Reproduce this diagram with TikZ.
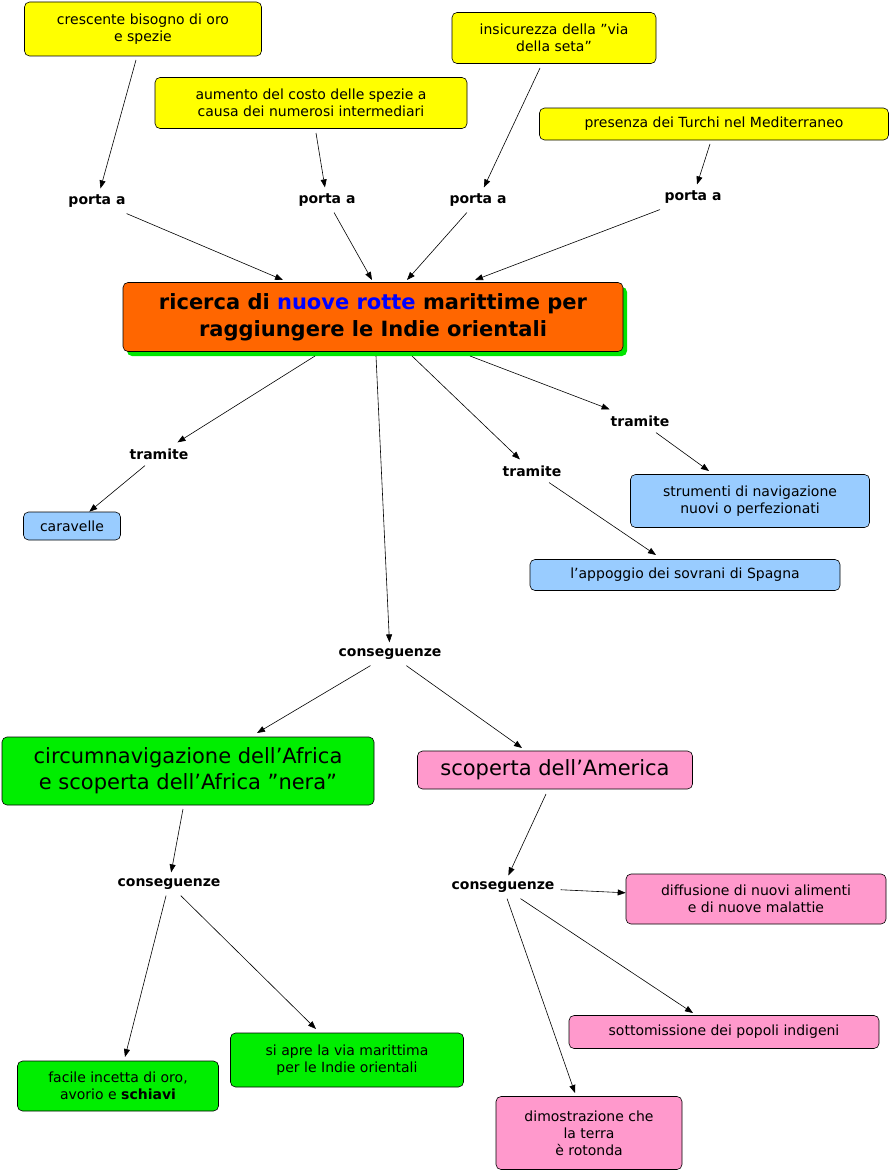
\documentclass[tikz,border=0pt]{standalone}
\usepackage{fontspec}
\setmainfont{DejaVu Sans}
\usetikzlibrary{arrows.meta}
\definecolor{cy}{HTML}{FFFF00}
\definecolor{cb}{HTML}{99CCFF}
\definecolor{cg}{HTML}{00EE00}
\definecolor{cp}{HTML}{FF99CC}
\definecolor{co}{HTML}{FF6600}
\begin{document}
\begin{tikzpicture}[x=1pt,y=-1pt,
  box/.style={draw=black,rounded corners=5pt,align=center,font=\fontsize{14}{17}\selectfont,inner sep=3pt,line width=0.6pt},
  yb/.style={box,fill=cy},
  bb/.style={box,fill=cb},
  gb/.style={box,fill=cg},
  pb/.style={box,fill=cp},
  lab/.style={font=\fontsize{14}{17}\selectfont\bfseries,inner sep=6pt},
  arr/.style={-{Triangle[length=8pt,width=6pt]},line width=0.6pt}]
\useasboundingbox (0,0) rectangle (893,1172);
\node[yb,minimum width=237,minimum height=54] (y1) at (143,29) {crescente bisogno di oro\\e spezie};
\node[yb,minimum width=312,minimum height=51] (y2) at (311,103) {aumento del costo delle spezie a\\causa dei numerosi intermediari};
\node[yb,minimum width=204,minimum height=51] (y3) at (554,38) {insicurezza della "via\\della seta"};
\node[yb,minimum width=349,minimum height=32] (y4) at (714,124) {presenza dei Turchi nel Mediterraneo};
\node[lab] (p1) at (97,201) {porta a};
\node[lab] (p2) at (327,200) {porta a};
\node[lab] (p3) at (478,200) {porta a};
\node[lab] (p4) at (693,197) {porta a};
\fill[green!90!black,rounded corners=5pt] (127,287) rectangle (627,356);
\node[box,fill=co,minimum width=500,minimum height=69,font=\fontsize{21}{27}\selectfont\bfseries] (m) at (373,317) {ricerca di \textcolor{blue}{nuove rotte} marittime per\\raggiungere le Indie orientali};
\node[lab] (t1) at (159,454) {tramite};
\node[lab] (t2) at (640,421) {tramite};
\node[lab] (t3) at (532,471) {tramite};
\node[bb,minimum width=97,minimum height=28] (b1) at (72,526) {caravelle};
\node[bb,minimum width=239,minimum height=53] (b2) at (750,501) {strumenti di navigazione\\nuovi o perfezionati};
\node[bb,minimum width=310,minimum height=31] (b3) at (685,575) {l'appoggio dei sovrani di Spagna};
\node[lab] (c0) at (390,654) {conseguenze};
\node[gb,minimum width=372,minimum height=68,font=\fontsize{21}{26}\selectfont] (g0) at (188,771) {circumnavigazione dell'Africa\\e scoperta dell'Africa "nera"};
\node[pb,minimum width=275,minimum height=38,font=\fontsize{21}{26}\selectfont] (a0) at (555,770) {scoperta dell'America};
\node[lab] (c1) at (169,884) {conseguenze};
\node[lab] (c2) at (503,887) {conseguenze};
\node[gb,minimum width=201,minimum height=50] (g1) at (118,1086) {facile incetta di oro,\\avorio e \textbf{schiavi}};
\node[gb,minimum width=233,minimum height=54] (g2) at (347,1060) {si apre la via marittima\\per le Indie orientali};
\node[pb,minimum width=260,minimum height=50] (a1) at (756,899) {diffusione di nuovi alimenti\\e di nuove malattie};
\node[pb,minimum width=310,minimum height=33] (a2) at (724,1032) {sottomissione dei popoli indigeni};
\node[pb,minimum width=186,minimum height=73] (a3) at (589,1133) {dimostrazione che\\la terra\\è rotonda};
\draw[arr] (136,60) -- (p1);
\draw[arr] (316,133) -- (p2);
\draw[arr] (540,68) -- (p3);
\draw[arr] (710,144) -- (p4);
\draw[arr] (p1) -- (283,280);
\draw[arr] (p2) -- (372,280);
\draw[arr] (p3) -- (407,280);
\draw[arr] (p4) -- (475,280);
\draw[arr] (315,356) -- (t1);
\draw[arr] (t1) -- (b1);
\draw[arr] (470,356) -- (t2);
\draw[arr] (t2) -- (709,471);
\draw[arr] (412,356) -- (t3);
\draw[arr] (t3) -- (656,555);
\draw[arr] (376,356) -- (c0);
\draw[arr] (c0) -- (257,733);
\draw[arr] (c0) -- (522,748);
\draw[arr] (183,809) -- (c1);
\draw[arr] (c1) -- (125,1057);
\draw[arr] (c1) -- (316,1029);
\draw[arr] (546,794) -- (c2);
\draw[arr] (c2) -- (a1);
\draw[arr] (c2) -- (693,1013);
\draw[arr] (c2) -- (575,1093);
\end{tikzpicture}
\end{document}
